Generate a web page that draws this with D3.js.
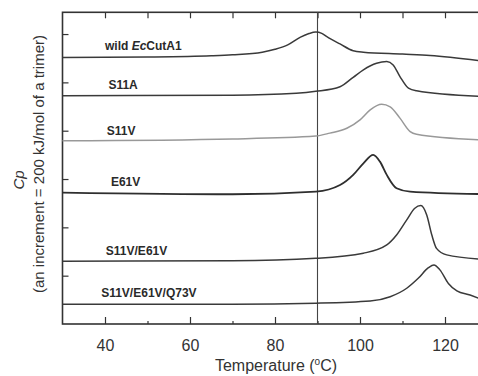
<!DOCTYPE html>
<html>
<head>
<meta charset="utf-8">
<script src="https://cdn.jsdelivr.net/npm/d3@7"></script>
<style>
  body { margin: 0; background: #fff; }
  svg { display: block; font-family: "Liberation Sans", Arial, sans-serif; }
</style>
</head>
<body>
<div id="chart"></div>
<script>
// temperature (°C) / Cp offsets (kJ/mol, stacked)
var wildT   = [30, 50, 65, 70, 77, 80, 83, 86, 88, 89.6, 91, 92.2, 95.3, 98.4, 100.8, 110, 116.5, 128];
var wildCp  = [1103, 1105, 1110, 1114, 1125, 1137, 1155, 1187, 1202, 1208, 1203, 1189, 1159, 1131, 1125, 1117, 1111, 1090];

var s11aT   = [30, 70, 85, 89.6, 95.3, 98.4, 100.8, 103.9, 106.3, 107.8, 109.4, 111.4, 113.3, 128];
var s11aCp  = [945, 947, 955, 963, 982, 1021, 1052, 1079, 1086, 1072, 1024, 976, 965, 942];

var s11vT   = [30, 70, 89.6, 92.9, 96.9, 100, 102.4, 105.1, 107.1, 109.4, 111.8, 113.3, 128];
var s11vCp  = [758, 766, 778, 790, 810, 845, 886, 909, 899, 852, 796, 785, 762];

var e61vT   = [30, 70, 89.6, 95.3, 98.4, 100.8, 103.1, 104.7, 106.3, 108.6, 111.8, 128];
var e61vCp  = [544, 537, 548, 575, 617, 665, 700, 672, 617, 562, 548, 538];

var dblT    = [30, 70, 89.6, 100.8, 106.3, 108.6, 111, 112.9, 114.3, 115.7, 116.9, 118, 120.4, 128];
var dblCp   = [260, 262, 272, 293, 327, 368, 431, 479, 490, 451, 368, 313, 286, 269];

var triT    = [30, 70, 89.6, 102.4, 107.1, 111, 113.7, 116.1, 117.4, 118.8, 120.8, 122.8, 125.9, 128];
var triCp   = [82, 82, 86, 95, 113, 148, 189, 233, 244, 224, 168, 137, 120, 106];

var seriesNames = ['wild EcCutA1', 'S11A', 'S11V', 'E61V', 'S11V/E61V', 'S11V/E61V/Q73V'];
var seriesT  = [wildT, s11aT, s11vT, e61vT, dblT, triT];
var seriesCp = [wildCp, s11aCp, s11vCp, e61vCp, dblCp, triCp];

var xMajorTicks = [40, 60, 80, 100, 120];
var xMinorTicks = [50, 70, 90, 110];
var yTicks = [200, 400, 600, 800, 1000, 1200];
var refLineT = 90;

// label anchors (°C, kJ/mol)
var labelT  = [40, 40.8, 40.4, 41.4, 40.2, 39.1];
var labelCp = [1136, 972, 782, 573, 286, 113];
var lineColors = ['#3a3a3a', '#3a3a3a', '#999', '#2e2e2e', '#3a3a3a', '#3a3a3a'];

var W = 478, H = 376;
var svg = d3.select('#chart').append('svg')
    .attr('width', W)
    .attr('height', H);

var x = d3.scaleLinear().domain([30, 128]).range([62.5, 479]);
var y = d3.scaleLinear().domain([0, 1290]).range([324, 12.3]);

var pLeft = x.range()[0], pRight = x.range()[1], pTop = y.range()[1], pBottom = y.range()[0];

function styleTicks(g) {
    g.select('.domain').remove();
    g.selectAll('line').attr('stroke', '#333').attr('stroke-width', 1.2);
}

//Axes (ticks pointing inward)
svg.append('g')
   .attr('transform', 'translate(0,' + pBottom + ')')
   .call(d3.axisBottom(x).tickValues(xMajorTicks).tickSize(-7).tickPadding(16))
   .call(styleTicks)
   .call(function(g) {
       g.selectAll('text').attr('font-size', 16).attr('fill', '#333').attr('font-family', '"Liberation Sans", Arial, sans-serif');
   });

svg.append('g')
   .attr('transform', 'translate(0,' + pBottom + ')')
   .call(d3.axisBottom(x).tickValues(xMinorTicks).tickSize(-3).tickFormat(''))
   .call(styleTicks);

svg.append('g')
   .attr('transform', 'translate(0,' + pTop + ')')
   .call(d3.axisTop(x).tickValues(xMajorTicks.concat(xMinorTicks)).tickSize(-6).tickFormat(''))
   .call(styleTicks);

svg.append('g')
   .attr('transform', 'translate(' + pLeft + ',0)')
   .call(d3.axisLeft(y).tickValues(yTicks).tickSize(-6).tickFormat(''))
   .call(styleTicks);

//Frame
svg.append('rect')
   .attr('x', pLeft)
   .attr('y', pTop)
   .attr('width', pRight - pLeft)
   .attr('height', pBottom - pTop)
   .attr('fill', 'none')
   .attr('stroke', '#333')
   .attr('stroke-width', 1.6);

//Reference line at 90 °C
svg.append('line')
   .attr('x1', x(refLineT)).attr('x2', x(refLineT))
   .attr('y1', pTop).attr('y2', pBottom)
   .attr('stroke', '#444')
   .attr('stroke-width', 1.1);

//Curves
var line = d3.line()
    .x(function(d) { return x(d[0]); })
    .y(function(d) { return y(d[1]); })
    .curve(d3.curveMonotoneX);

seriesNames.forEach(function(name, i) {
    var pts = seriesT[i].map(function(t, j) { return [t, seriesCp[i][j]]; });
    svg.append('path')
       .datum(pts)
       .attr('d', line)
       .attr('fill', 'none')
       .attr('stroke', lineColors[i])
       .attr('stroke-width', i === 3 ? 1.8 : 1.5)
       .attr('stroke-linejoin', 'round');
});

//Series labels
seriesNames.forEach(function(name, i) {
    var t = svg.append('text')
       .attr('x', x(labelT[i]))
       .attr('y', y(labelCp[i]))
       .attr('font-size', 12)
       .attr('font-weight', 'bold')
       .attr('fill', '#2a2a2a');
    if (i === 0) {
        t.append('tspan').text('wild ');
        t.append('tspan').attr('font-style', 'italic').text('Ec');
        t.append('tspan').text('CutA1');
    } else {
        t.text(name);
    }
});

//Axis titles
var xt = svg.append('text')
   .attr('x', 276)
   .attr('y', 371)
   .attr('text-anchor', 'middle')
   .attr('font-size', 16)
   .attr('fill', '#333');
xt.append('tspan').text('Temperature (');
xt.append('tspan').attr('font-size', 10).attr('dy', -6).text('o');
xt.append('tspan').attr('dy', 6).text('C)');

svg.append('text')
   .attr('transform', 'translate(24,180) rotate(-90)')
   .attr('text-anchor', 'middle')
   .attr('font-size', 15)
   .attr('font-style', 'italic')
   .attr('fill', '#333')
   .text('Cp');

svg.append('text')
   .attr('transform', 'translate(44,164) rotate(-90)')
   .attr('text-anchor', 'middle')
   .attr('font-size', 15)
   .attr('fill', '#333')
   .text('(an increment = 200 kJ/mol of a trimer)');
</script>
</body>
</html>
